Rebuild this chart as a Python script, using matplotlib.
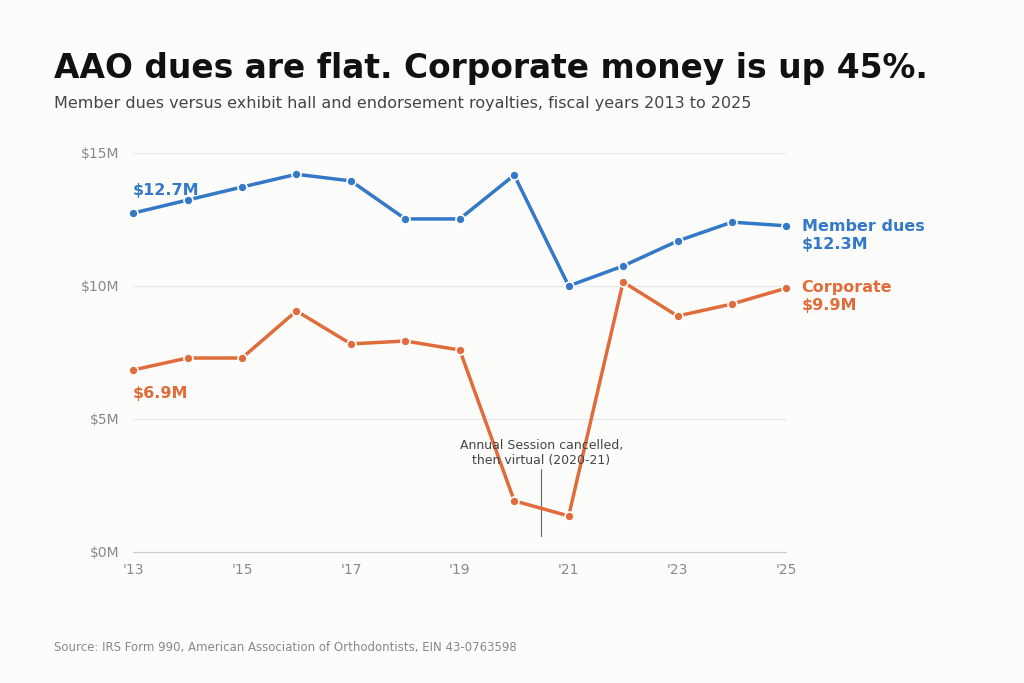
import matplotlib
matplotlib.use("Agg")
import matplotlib.pyplot as plt

years = list(range(2013, 2026))
member = [12.74, 13.23, 13.72, 14.2, 13.95, 12.52, 12.52, 14.17, 10.0, 10.75, 11.69, 12.4, 12.26]
corporate = [6.84, 7.29, 7.29, 9.06, 7.82, 7.93, 7.59, 1.92, 1.35, 10.15, 8.87, 9.32, 9.92]
xticks = [2013, 2015, 2017, 2019, 2021, 2023, 2025]
xlabels = ["'13", "'15", "'17", "'19", "'21", "'23", "'25"]
yticks = [0, 5, 10, 15]
ylabels = ["$0M", "$5M", "$10M", "$15M"]

blue = "#3478c8"
orange = "#e06c3c"
bg = "#fcfcfa"

fig = plt.figure(figsize=(10.24, 6.83), dpi=100, facecolor=bg)
ax = fig.add_axes([0.130, 0.192, 0.638, 0.584], facecolor=bg)
for vals, c in [(member, blue), (corporate, orange)]:
    ax.plot(years, vals, color=c, lw=2.5, marker="o", ms=6.5, mec="white", mew=1.2, clip_on=False, zorder=3)

ax.set_xlim(2013, 2025)
ax.set_ylim(0, 15)
ax.set_xticks(xticks, xlabels)
ax.set_yticks(yticks, ylabels)
ax.grid(axis="y", color="#e6e6e6", lw=0.8)
ax.set_axisbelow(True)
for s in ["top", "right", "left"]:
    ax.spines[s].set_visible(False)
ax.spines["bottom"].set_color("#cccccc")
ax.tick_params(axis="both", length=0, colors="#888888", labelsize=10)
ax.tick_params(axis="x", pad=8)
ax.tick_params(axis="y", pad=10)

ax.text(2013, 13.3, "$12.7M", color=blue, fontsize=11.5, fontweight="bold", va="bottom")
ax.text(2013, 5.95, "$6.9M", color=orange, fontsize=11.5, fontweight="bold", va="center")
ax.text(2025.28, 11.9, "Member dues\n$12.3M", color=blue, fontsize=11.5, fontweight="bold", va="center", linespacing=1.2)
ax.text(2025.28, 9.6, "Corporate\n$9.9M", color=orange, fontsize=11.5, fontweight="bold", va="center", linespacing=1.2)

ax.plot([2020.5, 2020.5], [0.6, 3.1], color="#666666", lw=0.8)
ax.text(2020.5, 3.2, "Annual Session cancelled,\nthen virtual (2020-21)", ha="center", va="bottom", fontsize=9, color="#444444")

fig.text(0.053, 0.9, "AAO dues are flat. Corporate money is up 45%.", fontsize=23.7, fontweight="bold", color="#111111", va="center")
fig.text(0.053, 0.849, "Member dues versus exhibit hall and endorsement royalties, fiscal years 2013 to 2025", fontsize=11.5, color="#444444", va="center")
fig.text(0.053, 0.052, "Source: IRS Form 990, American Association of Orthodontists, EIN 43-0763598", fontsize=8.5, color="#888888", va="center")

fig.savefig("out.png", dpi=100, facecolor=bg)
